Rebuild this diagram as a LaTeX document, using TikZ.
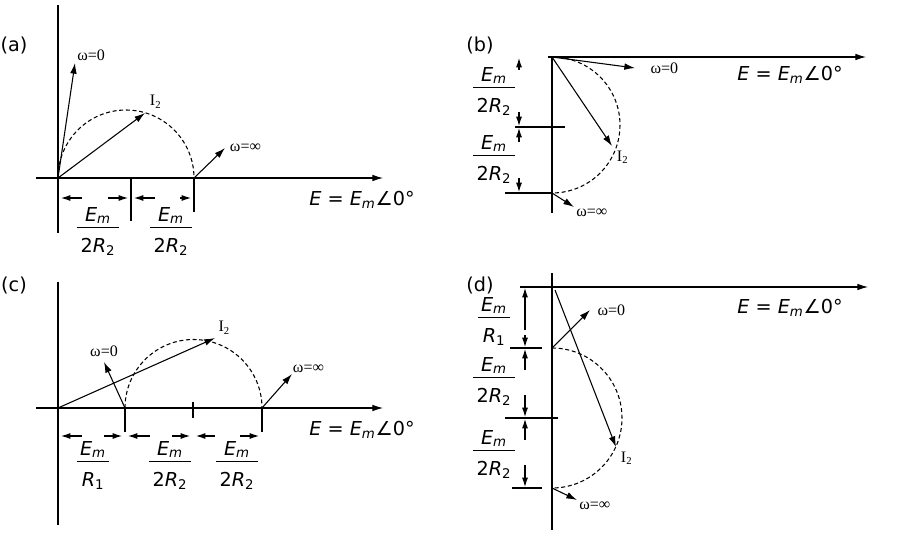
\documentclass[tikz,border=0pt]{standalone}
\usepackage{fontspec}
\setmainfont{DejaVu Sans}
\newfontfamily\serifw{Liberation Serif}
\usetikzlibrary{arrows.meta}
\newcommand{\Em}{\textit{E}\textsubscript{\textit{m}}}
\newcommand{\fr}[2]{\begin{tabular}{@{\,}c@{\,}}#1\\[-1pt]\hline\rule{0pt}{2.4ex}#2\end{tabular}}
\newcommand{\Elab}{\textit{E} = \Em∠0°}
\tikzset{
  ax/.style={thick,-{Latex[length=8pt,width=5pt]}},
  vec/.style={thick,-{Latex[length=8pt,width=5pt]}},
  circ/.style={thick,dash pattern=on 3pt off 2pt},
  dim/.style={thick,-{Latex[length=7pt,width=4.5pt]}},
  lbl/.style={font=\serifw\large},
  frac/.style={font=\Large,inner sep=0pt},
}
\begin{document}
\begin{tikzpicture}[x=0.75pt,y=-0.75pt]
\useasboundingbox (0,0) rectangle (901,539);
                            % (a)
                            \node (la) at (14,45) {\Large (a)};
                            \coordinate (oa) at (58,178);
                            \draw[thick] (58,5) -- (58,233);
                            \draw[ax] (36,178) -- (383,178);
                            \draw[circ] (oa) arc (180:360:68);
                            \draw[thick] (131,178) -- (131,221);
                            \draw[thick] (194,178) -- (194,212);
                            \coordinate (pa1) at (75,63);
                            \coordinate (pa2) at (145,113);
                            \coordinate (sa) at (194,178);
                            \coordinate (pa3) at (225,148);
                            \draw[vec] (oa) -- (pa1) node[lbl,above right=-2pt] {ω=0};
                            \draw[vec] (oa) -- (pa2) node[lbl,above right=0pt] {I\textsubscript{2}};
                            \draw[vec] (sa) -- (pa3) node[lbl,right=0pt] {ω=∞};
                            \draw[dim] (82,198) -- (61,198);
                            \draw[dim] (108,198) -- (128,198);
                            \draw[dim] (155,198) -- (134,198);
                            \draw[dim] (180,198) -- (191,198);
                            \node[frac] (fa1) at (98,232) {\fr{\Em}{2\textit{R}\textsubscript{2}}};
                            \node[frac] (fa2) at (171,232) {\fr{\Em}{2\textit{R}\textsubscript{2}}};
                            \node[font=\Large] (ea) at (362,200) {\Elab};

                            % (b)
                            \node (lb) at (480,45) {\Large (b)};
                            \coordinate (ob) at (552,57);
                            \draw[ax] (548,57) -- (866,57);
                            \draw[thick] (552,57) -- (552,213);
                            \draw[circ] (ob) arc (-90:90:68);
                            \draw[thick] (515,127) -- (565,127);
                            \draw[thick] (505,193) -- (552,193);
                            \draw[dim] (519,70) -- (519,58);
                            \draw[dim] (519,112) -- (519,126);
                            \draw[dim] (519,142) -- (519,128);
                            \draw[dim] (519,178) -- (519,192);
                            \coordinate (sb) at (552,193);
                            \draw[vec] (ob) -- (635,68) node[lbl,right=8pt] {ω=0};
                            \draw[vec] (ob) -- (612,146) node[lbl,below right=0pt] {I\textsubscript{2}};
                            \draw[vec] (sb) -- (574,207) node[lbl,below right=-2pt] {ω=∞};
                            \node[frac] (fb1) at (494,92) {\fr{\Em}{2\textit{R}\textsubscript{2}}};
                            \node[frac] (fb2) at (494,160) {\fr{\Em}{2\textit{R}\textsubscript{2}}};
                            \node[font=\Large] (eb) at (790,75) {\Elab};

                            % (c)
                            \node (lc) at (14,285) {\Large (c)};
                            \coordinate (oc) at (58,408);
                            \draw[thick] (58,282) -- (58,525);
                            \draw[ax] (36,408) -- (383,408);
                            \coordinate (sc0) at (125,408);
                            \draw[circ] (sc0) arc (180:360:68.5);
                            \draw[thick] (125,408) -- (125,432);
                            \draw[thick] (193,402) -- (193,418);
                            \draw[thick] (262,408) -- (262,432);
                            \coordinate (sc) at (262,408);
                            \draw[vec] (sc0) -- (104,362) node[lbl,above=0pt] {ω=0};
                            \draw[vec] (oc) -- (215,338) node[lbl,above right=-1pt] {I\textsubscript{2}};
                            \draw[vec] (sc) -- (292,374) node[lbl,above right=-3pt] {ω=∞};
                            \draw[dim] (82,436) -- (61,436);
                            \draw[dim] (104,436) -- (122,436);
                            \draw[dim] (150,436) -- (128,436);
                            \draw[dim] (172,436) -- (190,436);
                            \draw[dim] (215,436) -- (196,436);
                            \draw[dim] (240,436) -- (259,436);
                            \node[frac] (fc1) at (93,466) {\fr{\Em}{\textit{R}\textsubscript{1}}};
                            \node[frac] (fc2) at (170,466) {\fr{\Em}{2\textit{R}\textsubscript{2}}};
                            \node[frac] (fc3) at (237,466) {\fr{\Em}{2\textit{R}\textsubscript{2}}};
                            \node[font=\Large] (ec) at (362,430) {\Elab};

                            % (d)
                            \node (ld) at (480,285) {\Large (d)};
                            \coordinate (od) at (552,287);
                            \draw[ax] (520,287) -- (868,287);
                            \draw[thick] (552,273) -- (552,530);
                            \coordinate (sd0) at (552,348);
                            \draw[circ] (sd0) arc (-90:90:70);
                            \draw[thick] (510,348) -- (542,348);
                            \draw[thick] (505,418) -- (558,418);
                            \draw[thick] (512,488) -- (542,488);
                            \coordinate (sd) at (552,488);
                            \draw[vec] (sd0) -- (590,310) node[lbl,right=2pt] {ω=0};
                            \draw[vec] (555,290) -- (616,447) node[lbl,below right=0pt] {I\textsubscript{2}};
                            \draw[vec] (sd) -- (577,500) node[lbl,below right=-2pt] {ω=∞};
                            \draw[dim] (525,330) -- (525,288);
                            \draw[dim] (525,335) -- (525,347);
                            \draw[dim] (525,370) -- (525,349);
                            \draw[dim] (525,395) -- (525,417);
                            \draw[dim] (525,440) -- (525,419);
                            \draw[dim] (525,465) -- (525,487);
                            \node[frac] (fd1) at (494,322) {\fr{\Em}{\textit{R}\textsubscript{1}}};
                            \node[frac] (fd2) at (494,382) {\fr{\Em}{2\textit{R}\textsubscript{2}}};
                            \node[frac] (fd3) at (494,455) {\fr{\Em}{2\textit{R}\textsubscript{2}}};
                            \node[font=\Large] (ed) at (790,308) {\Elab};
\end{tikzpicture}
\end{document}
